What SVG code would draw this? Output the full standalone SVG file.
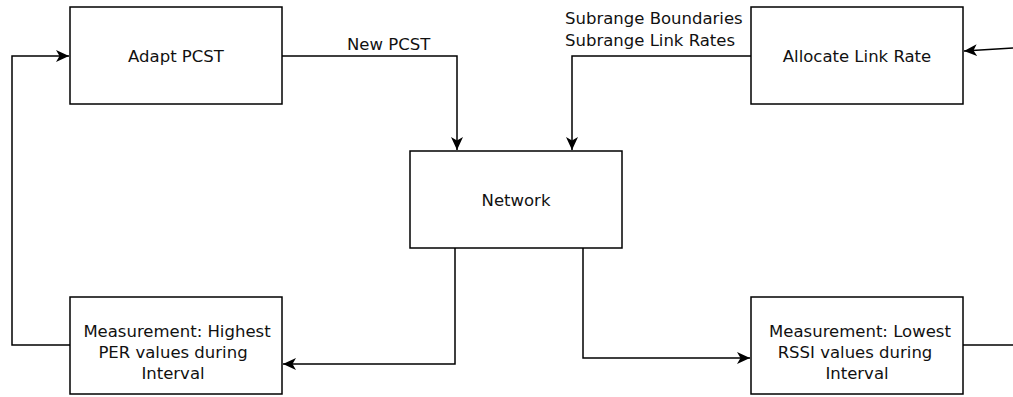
<svg xmlns="http://www.w3.org/2000/svg" width="1013" height="397" viewBox="0 0 1013 397">
<style>
.box{fill:#fff;stroke:#000;stroke-width:1.5}
.t{font-family:"DejaVu Sans","Liberation Sans",sans-serif;font-size:16.5px;fill:#111}
.c{text-anchor:middle}
.ln{fill:none;stroke:#000;stroke-width:1.5}
</style>
<defs>
<marker id="arr" markerUnits="userSpaceOnUse" markerWidth="14" markerHeight="12" refX="13" refY="6" orient="auto" viewBox="0 0 14 12">
<path d="M0,0 L13,6 L0,12 L3.5,6 Z" fill="#000"/>
</marker>
</defs>
<rect width="1013" height="397" fill="#fff"/>
<g id="connectors">
<path class="ln" d="M70,345 H12 V56 H69" marker-end="url(#arr)"/>
<path class="ln" d="M282,56 H457 V150" marker-end="url(#arr)"/>
<path class="ln" d="M751,56 H572 V150" marker-end="url(#arr)"/>
<path class="ln" d="M455,248 V364 H283" marker-end="url(#arr)"/>
<path class="ln" d="M583,248 V358 H750" marker-end="url(#arr)"/>
<path class="ln" d="M963,345 H1013"/>
<path class="ln" d="M1013,48 L964,51" marker-end="url(#arr)"/>
<text class="t" x="347" y="50">New PCST</text>
<text class="t" x="565" y="24">Subrange Boundaries</text>
<text class="t" x="565" y="46">Subrange Link Rates</text>
</g>
<g id="adapt">
<rect class="box" x="70" y="7" width="212" height="97"/>
<text class="t c" x="176" y="62">Adapt PCST</text>
</g>
<g id="allocate">
<rect class="box" x="751" y="7" width="212" height="97"/>
<text class="t c" x="857" y="62">Allocate Link Rate</text>
</g>
<g id="network">
<rect class="box" x="410" y="151" width="212" height="97"/>
<text class="t c" x="516" y="206">Network</text>
</g>
<g id="per">
<rect class="box" x="70" y="297" width="212" height="97"/>
<text class="t c" x="177" y="337">Measurement: Highest</text>
<text class="t c" x="173" y="358">PER values during</text>
<text class="t c" x="173" y="379">Interval</text>
</g>
<g id="rssi">
<rect class="box" x="751" y="297" width="212" height="97"/>
<text class="t c" x="860" y="337">Measurement: Lowest</text>
<text class="t c" x="855" y="358">RSSI values during</text>
<text class="t c" x="857" y="379">Interval</text>
</g>
</svg>
